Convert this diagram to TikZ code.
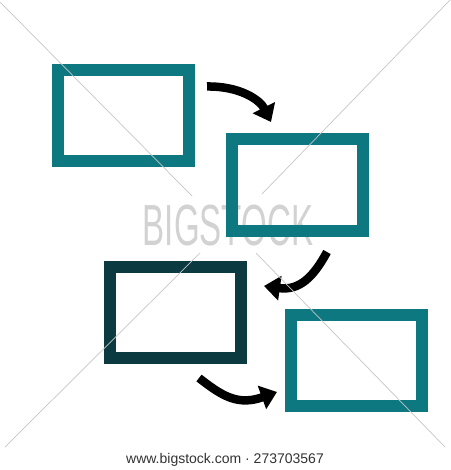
\documentclass[tikz,border=0pt]{standalone}
\usepackage{fontspec}
\setmainfont{Liberation Sans}
\usetikzlibrary{arrows.meta}
\definecolor{tealbox}{HTML}{0E7880}
\definecolor{darkbox}{HTML}{0B3A40}
\begin{document}
\begin{tikzpicture}[x=1pt,y=-1pt,
  box/.style={draw=tealbox,line width=12pt,minimum width=131pt,minimum height=91pt,inner sep=0pt},
  arr/.style={line width=8.5pt,black,-{Triangle[length=16pt,width=24pt]}},
  wline/.style={draw=gray!45,line width=0.7pt}]
\useasboundingbox[fill=white] (0,0) rectangle (450,470);
% watermark text
\node[text=gray!35,font=\fontsize{58}{58}\selectfont,xscale=0.57,inner sep=0pt,anchor=base] (wm) at (228,245) {BIGSTOCK};
% boxes
\node[box] (b1) at (123.5,115.5) {};
\node[box] (b2) at (297,185) {};
\node[box,draw=darkbox] (b3) at (175.5,312.5) {};
\node[box] (b4) at (356,360.5) {};
% arrows
\coordinate (a1s) at (207,86.5);
\coordinate (a1e) at (271,122);
\coordinate (a2s) at (327,252);
\coordinate (a2e) at (264,286);
\coordinate (a3s) at (199,378);
\coordinate (a3e) at (277,392);
\draw[arr] (a1s) .. controls (240,86) and (260,100) .. (a1e);
\draw[arr] (a2s) .. controls (314,276) and (300,291) .. (a2e);
\draw[arr] (a3s) .. controls (222,396) and (238,406) .. (a3e);
% watermark lines
\coordinate (l1a) at (0,2); \coordinate (l1b) at (192,196);
\coordinate (l2a) at (450,0); \coordinate (l2b) at (262,194);
\coordinate (l3a) at (200,253); \coordinate (l3b) at (5,447);
\coordinate (l4a) at (256,253); \coordinate (l4b) at (445,447);
\draw[wline] (l1a) -- (l1b);
\draw[wline] (l2a) -- (l2b);
\draw[wline] (l3a) -- (l3b);
\draw[wline] (l4a) -- (l4b);
% footer
\node[text=black!80,font=\fontsize{14}{14}\selectfont,anchor=base,inner sep=0pt] (ft) at (225,463) {www.bigstock.com · 273703567};
\end{tikzpicture}
\end{document}
